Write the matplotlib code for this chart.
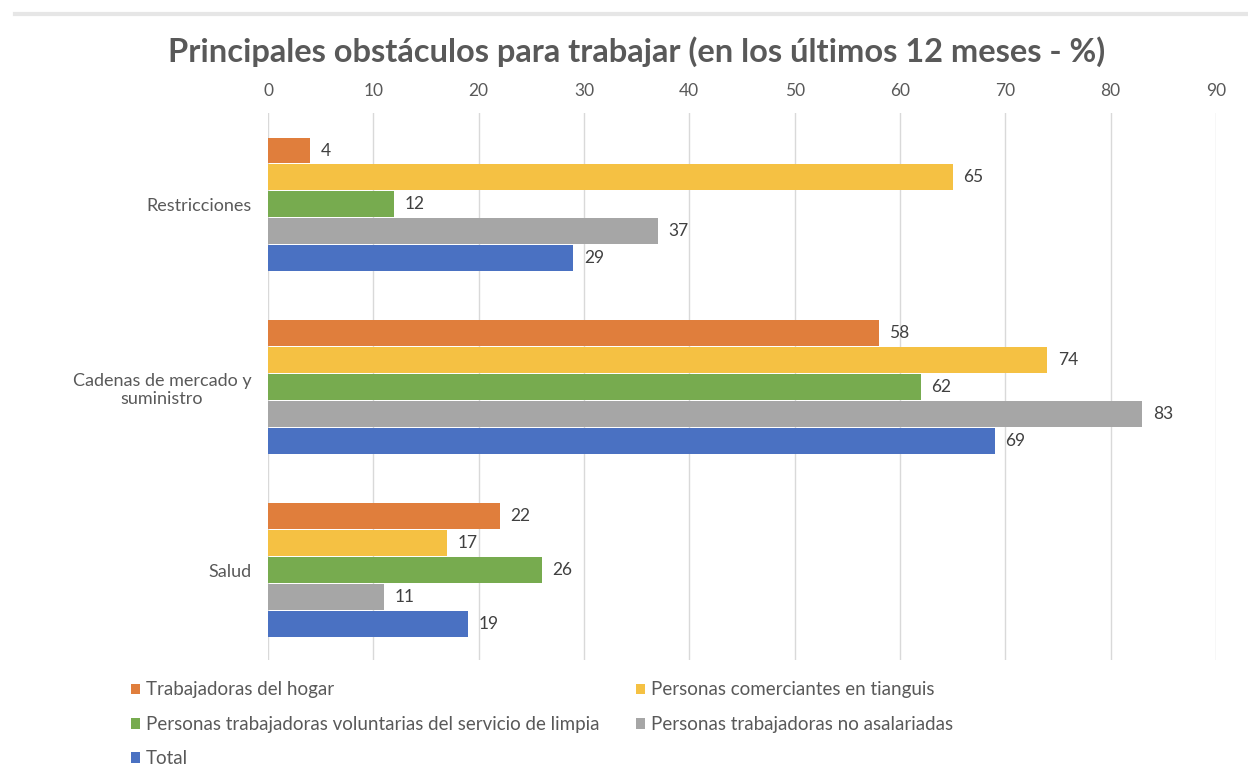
import matplotlib
matplotlib.use("Agg")
import matplotlib.pyplot as plt
import numpy as np
from matplotlib.lines import Line2D

categories = ["Restricciones", "Cadenas de mercado y\nsuministro", "Salud"]
series_names = [
    "Trabajadoras del hogar",
    "Personas comerciantes en tianguis",
    "Personas trabajadoras voluntarias del servicio de limpia",
    "Personas trabajadoras no asalariadas",
    "Total",
]
hogar = [4, 58, 22]
tianguis = [65, 74, 17]
limpia = [12, 62, 26]
no_asalariadas = [37, 83, 11]
total = [29, 69, 19]
series_values = [hogar, tianguis, limpia, no_asalariadas, total]
colors = ["#E07E3C", "#F5C143", "#77AB4F", "#A6A6A6", "#4A71C2"]
x_ticks = [0, 10, 20, 30, 40, 50, 60, 70, 80, 90]

plt.rcParams['font.family'] = ['Lato', 'DejaVu Sans']

fig = plt.figure(figsize=(12.48, 7.66), dpi=100)
ax = fig.add_axes([268/1248, 1-660/766, (1216-268)/1248, (660-113)/766])

step = 0.1475
height = 0.142
y = np.arange(len(categories))
handles = []
for i, (vals, col, name) in enumerate(zip(series_values, colors, series_names)):
    pos = y + (i - 2) * step
    b = ax.barh(pos, vals, height=height, color=col, label=name, zorder=3)
    handles.append(b)
    for p, v in zip(pos, vals):
        ax.text(v + 1.0, p, str(v), va='center', ha='left', fontsize=12.5, color='#404040')

ax.set_ylim(2.49, -0.50)
ax.set_xlim(0, 90)
ax.set_xticks(x_ticks)
ax.xaxis.tick_top()
ax.tick_params(axis='x', length=0, labelsize=12.5, labelcolor='#595959', pad=10)
ax.set_yticks(y)
ax.set_yticklabels(categories, multialignment='center', linespacing=1.15)
ax.tick_params(axis='y', length=0, labelsize=13, labelcolor='#595959', pad=12)
for s in ax.spines.values():
    s.set_visible(False)
ax.grid(axis='x', color='#D9D9D9', linewidth=1, zorder=0)
ax.grid(axis='y', visible=False)

fig.text(637/1248, 1-52/766, "Principales obstáculos para trabajar (en los últimos 12 meses - %)",
         ha='center', va='center', fontsize=23.5, fontweight='bold', color='#595959')

# light band at the very top
fig.add_artist(Line2D([15/1248, 1.0], [1-14/766, 1-14/766], color='#E6E6E6', linewidth=3))

order = [0, 2, 4, 1, 3]
leg = fig.legend([handles[k] for k in order], [series_names[k] for k in order],
                 ncol=2, loc='upper left', bbox_to_anchor=(123/1248, 1-674/766),
                 frameon=False, fontsize=13.5, labelcolor='#595959',
                 handlelength=0.5, handleheight=0.5, handletextpad=0.3,
                 columnspacing=1.95, labelspacing=0.93, borderaxespad=0)

fig.savefig("out.png", dpi=100, facecolor='white')
